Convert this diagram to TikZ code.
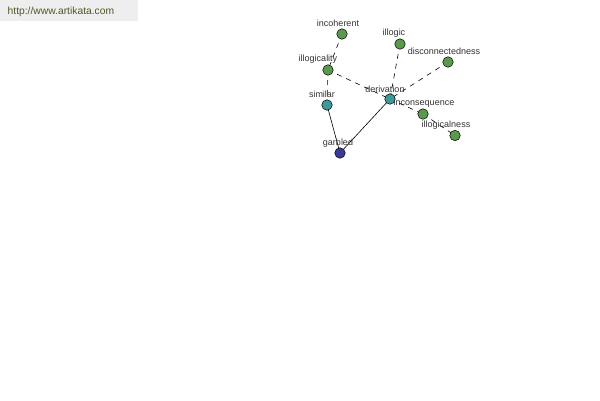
\documentclass[tikz,border=0pt]{standalone}
\usepackage{fontspec}
\setmainfont{Liberation Sans}
\begin{document}
\begin{tikzpicture}[x=1pt,y=-1pt,
  dot/.style={circle,draw=black,line width=0.5pt,minimum size=10.5pt,inner sep=0pt},
  gdot/.style={dot,fill=green1},
  tdot/.style={dot,fill=teal1},
  ndot/.style={dot,fill=navy1},
  lbl/.style={font=\fontsize{9}{10}\selectfont,text=black!80,inner sep=0pt},
  dsh/.style={draw=black,line width=0.6pt,dash pattern=on 5pt off 5pt},
  sld/.style={draw=black,line width=0.6pt}]
\definecolor{green1}{HTML}{5A9A4C}
\definecolor{teal1}{HTML}{3C9A9A}
\definecolor{navy1}{HTML}{3A3A96}
\definecolor{urlbg}{HTML}{EEEEEE}
\definecolor{urltx}{HTML}{4A5A28}
\useasboundingbox[fill=white] (0,0) rectangle (600,400);
\fill[urlbg] (0,0) rectangle (138,21);
\node[lbl,font=\fontsize{10.3}{12}\selectfont,text=urltx,anchor=west] (url) at (7.5,12) {http://www.artikata.com};
% coordinates
\coordinate (pinc) at (342,34);
\coordinate (pilc) at (400,44);
\coordinate (pdis) at (448,62);
\coordinate (pilg) at (328,70);
\coordinate (psim) at (327,105);
\coordinate (pder) at (390,99);
\coordinate (pcon) at (423,114);
\coordinate (piln) at (455,135.5);
\coordinate (pgar) at (340,153);
% edges
\draw[dsh] (pinc) -- (pilg);
\draw[dsh] (pilg) -- (psim);
\draw[dsh] (pilg) -- (pder);
\draw[dsh] (pilc) -- (pder);
\draw[dsh] (pdis) -- (pder);
\draw[dsh] (pder) -- (pcon);
\draw[dsh] (pcon) -- (piln);
\draw[sld] (psim) -- (pgar);
\draw[sld] (pgar) -- (pder);
% nodes
\node[gdot] (inc) at (pinc) {};
\node[gdot] (ilc) at (pilc) {};
\node[gdot] (dis) at (pdis) {};
\node[gdot] (ilg) at (pilg) {};
\node[tdot] (sim) at (psim) {};
\node[tdot] (der) at (pder) {};
\node[gdot] (con) at (pcon) {};
\node[gdot] (iln) at (piln) {};
\node[ndot] (gar) at (pgar) {};
% labels
\node[lbl] (linc) at (338,23) {incoherent};
\node[lbl] (lilc) at (394,33) {illogic};
\node[lbl] (ldis) at (444,51) {disconnectedness};
\node[lbl] (lilg) at (318,59) {illogicality};
\node[lbl] (lsim) at (322,94) {similar};
\node[lbl] (lder) at (385,89) {derivation};
\node[lbl] (lcon) at (424,103) {inconsequence};
\node[lbl] (liln) at (446,125) {illogicalness};
\node[lbl] (lgar) at (338,143) {garbled};
\end{tikzpicture}
\end{document}
